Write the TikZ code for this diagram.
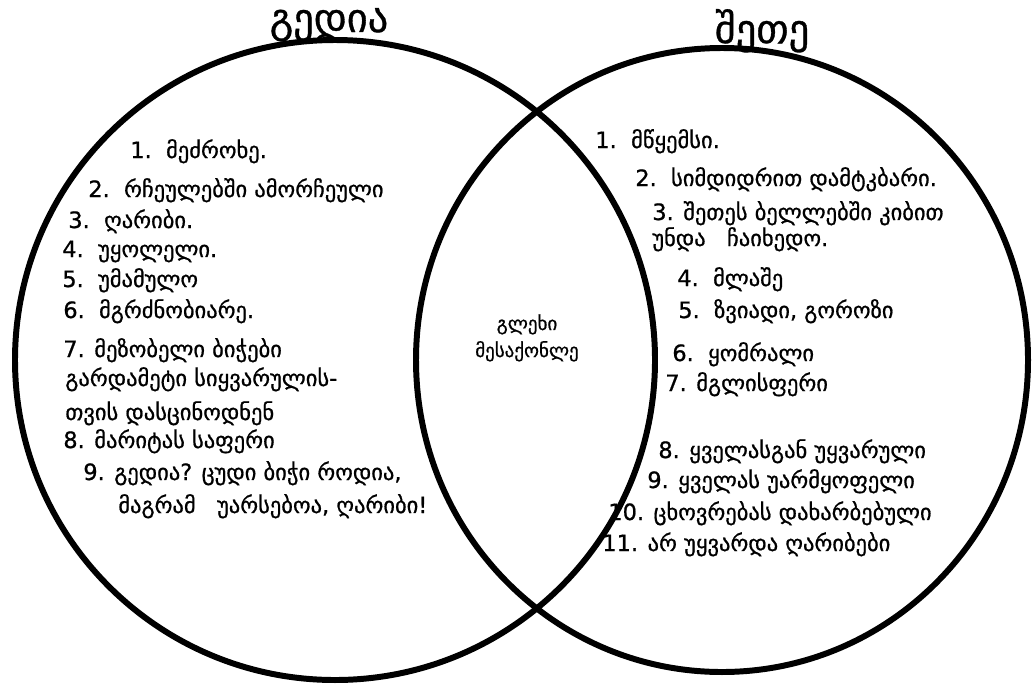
\documentclass[tikz,border=0pt]{standalone}
\usepackage{fontspec}
\setmainfont{DejaVu Sans}[FakeBold=0.8]
\usepackage{tikz}

\begin{document}
\begin{tikzpicture}[
  every node/.style={font=\normalsize},
  ring/.style={draw,line width=3.4pt},
  ttl/.style={font=\fontsize{23}{26}\selectfont,anchor=base,inner sep=0pt},
  itm/.style={font=\fontsize{12.8}{15}\selectfont,anchor=base west,inner sep=0pt},
  ctr/.style={font=\fontsize{10.8}{13}\selectfont,anchor=base,inner sep=0pt},
  x=0.02cm,y=-0.02cm]

  \useasboundingbox (0,0) rectangle (1033,683);

  % --- the two sets
  \coordinate (gediaC) at (335,360);
  \coordinate (sheteC) at (722,360);
  \path[ring] (gediaC) ellipse[x radius=320,y radius=320];
  \path[ring] (sheteC) ellipse[x radius=306,y radius=312];

  % --- titles on top of the rings
  \node[ttl] (tgedia) at (329,32) {გედია};
  \node[ttl] (tshete) at (762,43) {შეთე};

  % --- left set: gedia
  \node[itm] (l1)  at (130,158) {1.\ \ მეძროხე.};
  \node[itm] (l2)  at (88,197)  {2.\ \ რჩეულებში ამორჩეული};
  \node[itm] (l3)  at (68,228)  {3.\ \ ღარიბი.};
  \node[itm] (l4)  at (62,257)  {4.\ \ უყოლელი.};
  \node[itm] (l5)  at (62,287)  {5.\ \ უმამულო};
  \node[itm] (l6)  at (63,318)  {6.\ \ მგრძნობიარე.};
  \node[itm] (l7)  at (63,357)  {7. მეზობელი ბიჭები};
  \node[itm] (l7b) at (65,386)  {გარდამეტი სიყვარულის-};
  \node[itm] (l7c) at (65,420)  {თვის დასცინოდნენ};
  \node[itm] (l8)  at (63,448)  {8. მარიტას საფერი};
  \node[itm] (l9)  at (83,480)  {9. გედია? ცუდი ბიჭი როდია,};
  \node[itm] (l9b) at (118,513) {მაგრამ\ \ \ უარსებოა, ღარიბი!};

  % --- shared part
  \node[ctr] (c1) at (527,330) {გლეხი};
  \node[ctr] (c2) at (527,357) {მესაქონლე};

  % --- right set: shete
  \node[itm] (r1)  at (595,148) {1.\ \ მწყემსი.};
  \node[itm] (r2)  at (635,186) {2.\ \ სიმდიდრით დამტკბარი.};
  \node[itm] (r3)  at (652,220) {3. შეთეს ბელლებში კიბით};
  \node[itm] (r3b) at (652,246) {უნდა\ \ \ ჩაიხედო.};
  \node[itm] (r4)  at (677,286) {4.\ \ მლაშე};
  \node[itm] (r5)  at (678,318) {5.\ \ ზვიადი, გოროზი};
  \node[itm] (r6)  at (672,361) {6.\ \ ყომრალი};
  \node[itm] (r7)  at (665,391) {7. მგლისფერი};
  \node[itm] (r8)  at (658,458) {8. ყველასგან უყვარული};
  \node[itm] (r9)  at (647,488) {9. ყველას უარმყოფელი};
  \node[itm] (r10) at (608,520) {10. ცხოვრებას დახარბებული};
  \node[itm] (r11) at (602,551) {11. არ უყვარდა ღარიბები};
\end{tikzpicture}
\end{document}
